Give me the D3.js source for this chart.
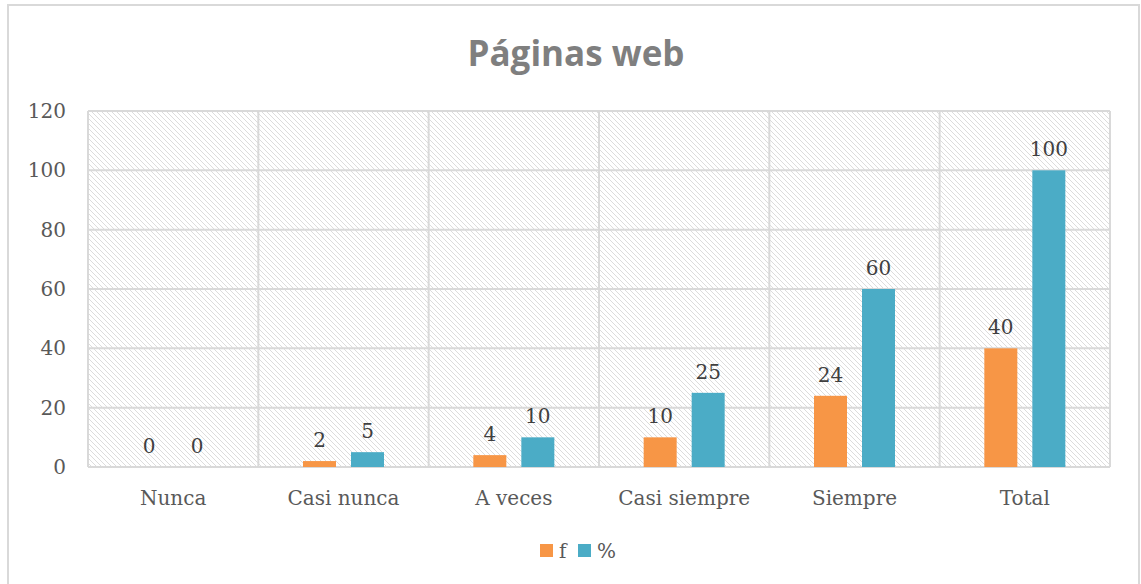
<!DOCTYPE html>
<html>
<head>
<meta charset="utf-8">
<script src="https://cdn.jsdelivr.net/npm/d3@7"></script>
<style>
  body { margin: 0; background: #fff; }
</style>
</head>
<body>
<div id="chart"></div>
<script>
var categories = ["Nunca", "Casi nunca", "A veces", "Casi siempre", "Siempre", "Total"];
var seriesNames = ["f", "%"];
var fValues = [0, 2, 4, 10, 24, 40];
var pctValues = [0, 5, 10, 25, 60, 100];
var yTicks = [0, 20, 40, 60, 80, 100, 120];

var width = 1141, height = 584;
var colors = ["#F79646", "#4BACC6"];
var margin = { left: 88, right: 31, top: 111, bottom: 117 };

var svg = d3.select("#chart")
  .append("svg")
  .attr("width", width)
  .attr("height", height);

// hatch fill for the plot area
var defs = svg.append("defs");
var pat = defs.append("pattern")
  .attr("id", "hatch")
  .attr("patternUnits", "userSpaceOnUse")
  .attr("width", 5)
  .attr("height", 5);
pat.append("path")
  .attr("d", "M0,0 L5,5 M-1,4 L1,6 M4,-1 L6,1")
  .attr("stroke", "#dcdcdc")
  .attr("stroke-width", 1);

// outer chart border
svg.append("rect")
  .attr("x", 8).attr("y", 5)
  .attr("width", 1131).attr("height", 600)
  .attr("fill", "none")
  .attr("stroke", "#d9d9d9")
  .attr("stroke-width", 2);

var x0 = d3.scaleBand()
  .domain(categories)
  .range([margin.left, width - margin.right]);

var y = d3.scaleLinear()
  .domain([0, 120])
  .range([height - margin.bottom, margin.top]);

var barW = 33, gap = 15;

svg.append("rect")
  .attr("x", x0.range()[0])
  .attr("y", y(120))
  .attr("width", x0.range()[1] - x0.range()[0])
  .attr("height", y(0) - y(120))
  .attr("fill", "url(#hatch)");

// gridlines
svg.selectAll(".hgrid")
  .data(yTicks)
  .enter()
  .append("line")
  .attr("x1", x0.range()[0])
  .attr("x2", x0.range()[1])
  .attr("y1", function(d) { return y(d); })
  .attr("y2", function(d) { return y(d); })
  .attr("stroke", "#d9d9d9")
  .attr("stroke-width", 2);

var bounds = categories.map(function(c) { return x0(c); }).concat([x0.range()[1]]);
svg.selectAll(".vgrid")
  .data(bounds)
  .enter()
  .append("line")
  .attr("x1", function(d) { return d; })
  .attr("x2", function(d) { return d; })
  .attr("y1", y(120))
  .attr("y2", y(0))
  .attr("stroke", "#d9d9d9")
  .attr("stroke-width", 2);

// y axis labels
svg.selectAll(".ylab")
  .data(yTicks)
  .enter()
  .append("text")
  .attr("x", 66)
  .attr("y", function(d) { return y(d); })
  .attr("dy", "0.35em")
  .attr("text-anchor", "end")
  .attr("font-family", "DejaVu Serif")
  .attr("font-size", 20)
  .attr("fill", "#595959")
  .text(function(d) { return d; });

// x labels
svg.selectAll(".xlab")
  .data(categories)
  .enter()
  .append("text")
  .attr("x", function(d) { return x0(d) + x0.bandwidth() / 2; })
  .attr("y", 505)
  .attr("text-anchor", "middle")
  .attr("font-family", "DejaVu Serif")
  .attr("font-size", 20)
  .attr("fill", "#595959")
  .text(function(d) { return d; });

var series = [fValues, pctValues];
series.forEach(function(vals, si) {
  var offset = si === 0 ? -(gap / 2 + barW) : gap / 2;
  var g = svg.append("g");
  g.selectAll("rect")
    .data(vals)
    .enter()
    .append("rect")
    .attr("x", function(d, i) { return x0(categories[i]) + x0.bandwidth() / 2 + offset; })
    .attr("y", function(d) { return y(d); })
    .attr("width", barW)
    .attr("height", function(d) { return y(0) - y(d); })
    .attr("fill", colors[si]);
  g.selectAll("text")
    .data(vals)
    .enter()
    .append("text")
    .attr("x", function(d, i) { return x0(categories[i]) + x0.bandwidth() / 2 + offset + barW / 2; })
    .attr("y", function(d) { return y(d) - 14; })
    .attr("text-anchor", "middle")
    .attr("font-family", "DejaVu Serif")
    .attr("font-size", 20)
    .attr("fill", "#404040")
    .text(function(d) { return d; });
});

// title
svg.append("text")
  .attr("x", 576)
  .attr("y", 66)
  .attr("text-anchor", "middle")
  .attr("font-family", "Open Sans")
  .attr("font-weight", "bold")
  .attr("font-size", 35)
  .attr("fill", "#7f7f7f")
  .text("Páginas web");

// legend
var legend = svg.append("g");
var legX = [540, 578];
seriesNames.forEach(function(name, i) {
  legend.append("rect")
    .attr("x", legX[i]).attr("y", 544)
    .attr("width", 13).attr("height", 13)
    .attr("fill", colors[i]);
  legend.append("text")
    .attr("x", legX[i] + 19)
    .attr("y", 558)
    .attr("font-family", "DejaVu Serif")
    .attr("font-size", 20)
    .attr("fill", "#595959")
    .text(name);
});
</script>
</body>
</html>
